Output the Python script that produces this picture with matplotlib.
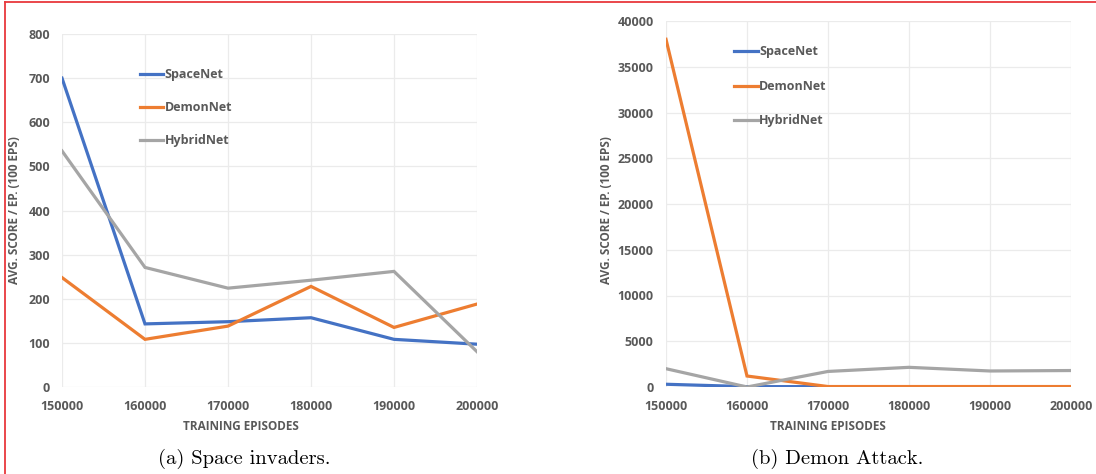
import matplotlib.pyplot as plt
from matplotlib.lines import Line2D

# data
episodes = [150000, 160000, 170000, 180000, 190000, 200000]
series_names = ["SpaceNet", "DemonNet", "HybridNet"]

space_space = [700, 143, 148, 157, 108, 97]
space_demon = [248, 108, 138, 228, 135, 188]
space_hybrid = [535, 271, 224, 242, 262, 80]

demon_space = [300, 40, 40, 40, 40, 40]
demon_demon = [38000, 1200, 50, 50, 50, 50]
demon_hybrid = [2000, 0, 1700, 2150, 1750, 1800]

colors = ["#4472C4", "#ED7D31", "#A5A5A5"]
txt_gray = "#595959"
grid_gray = "#EBEBEB"

plt.rcParams['font.family'] = ['Open Sans', 'DejaVu Sans']

W, H = 1096, 474
fig = plt.figure(figsize=(W / 100, H / 100), dpi=100)


def px_box(x0, x1, ytop, ybot):
    return [x0 / W, 1 - ybot / H, (x1 - x0) / W, (ybot - ytop) / H]


def style_axes(ax, ymax, ystep, ypad):
    ax.set_xlim(episodes[0], episodes[-1])
    ax.set_ylim(0, ymax)
    ax.set_xticks(episodes)
    ax.set_yticks(range(0, ymax + 1, ystep))
    ax.grid(True, color=grid_gray, lw=0.9)
    ax.set_axisbelow(True)
    for s in ax.spines.values():
        s.set_visible(False)
    ax.tick_params(length=0, labelcolor=txt_gray, labelsize=9)
    ax.tick_params(axis='x', pad=9)
    ax.tick_params(axis='y', pad=ypad)
    for lab in ax.get_xticklabels() + ax.get_yticklabels():
        lab.set_fontweight('bold')


# (a) Space invaders
ax1 = fig.add_axes(px_box(62, 477, 34, 387))
style_axes(ax1, 800, 100, 8.5)
for vals, c, name in zip([space_space, space_demon, space_hybrid], colors, series_names):
    ax1.plot(episodes, vals, color=c, lw=2.3, label=name, solid_joinstyle='miter')
leg1 = ax1.legend(loc='upper left', bbox_to_anchor=(0.16, 0.935), frameon=False,
                  handlelength=1.9, handletextpad=0.1, labelspacing=1.6,
                  prop={'weight': 'bold', 'size': 9})
for t in leg1.get_texts():
    t.set_color(txt_gray)

# (b) Demon Attack
ax2 = fig.add_axes(px_box(666, 1071, 21, 387))
style_axes(ax2, 40000, 5000, 9)
for vals, c, name in zip([demon_space, demon_demon, demon_hybrid], colors, series_names):
    ax2.plot(episodes, vals, color=c, lw=2.3, label=name, solid_joinstyle='miter')
leg2 = ax2.legend(loc='upper left', bbox_to_anchor=(0.14, 0.964), frameon=False,
                  handlelength=1.9, handletextpad=0.1, labelspacing=1.72,
                  prop={'weight': 'bold', 'size': 9})
for t in leg2.get_texts():
    t.set_color(txt_gray)

# axis titles
ylab = "AVG. SCORE / EP. (100 EPS)"
fig.text(15 / W, 1 - 210 / H, ylab, rotation=90, ha='center', va='center',
         color=txt_gray, fontsize=8.5, fontweight='bold')
fig.text(607 / W, 1 - 210 / H, ylab, rotation=90, ha='center', va='center',
         color=txt_gray, fontsize=8.5, fontweight='bold')
fig.text(241 / W, 1 - 427 / H, "TRAINING EPISODES", ha='center', va='center',
         color=txt_gray, fontsize=8.5, fontweight='bold')
fig.text(828 / W, 1 - 427 / H, "TRAINING EPISODES", ha='center', va='center',
         color=txt_gray, fontsize=8.5, fontweight='bold')

# captions
fig.text(244 / W, 1 - 459 / H, "(a) Space invaders.", ha='center', va='center',
         family='cmr10', fontsize=14.8, color='black')
fig.text(837 / W, 1 - 459 / H, "(b) Demon Attack.", ha='center', va='center',
         family='cmr10', fontsize=14.8, color='black')

# red frame on top and left
fig.add_artist(Line2D([5 / W, 1], [1 - 1.5 / H, 1 - 1.5 / H], color='#E8383D', lw=1.3))
fig.add_artist(Line2D([5 / W, 5 / W], [0, 1 - 1.5 / H], color='#E8383D', lw=1.3))

fig.savefig("out.png", dpi=100)
